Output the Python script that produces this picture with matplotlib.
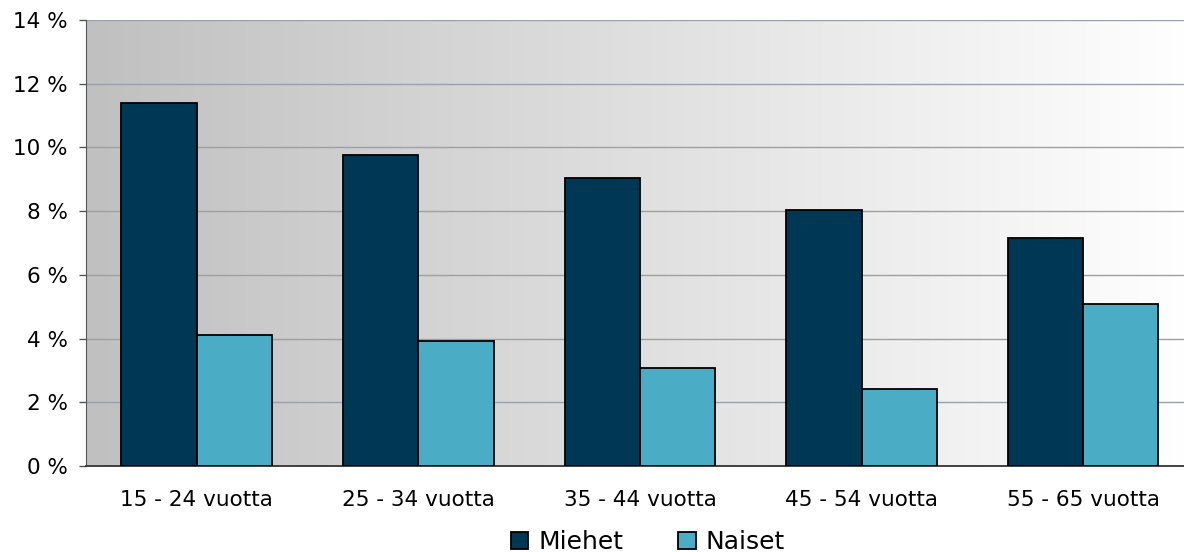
import matplotlib.pyplot as plt
import numpy as np
from matplotlib.colors import LinearSegmentedColormap

categories = ["15 - 24 vuotta", "25 - 34 vuotta", "35 - 44 vuotta", "45 - 54 vuotta", "55 - 65 vuotta"]
miehet = [11.4, 9.75, 9.05, 8.05, 7.15]
naiset = [4.12, 3.93, 3.08, 2.42, 5.08]
yticks = [0, 2, 4, 6, 8, 10, 12, 14]

dark = "#003755"
light = "#4bacc6"

fig = plt.figure(figsize=(11.84, 5.52), dpi=100)
# plot area runs slightly past the right edge, as in the original
ax = fig.add_axes([0.0726, 0.1558, 0.9358, 0.808])

# gradient background
cmap = LinearSegmentedColormap.from_list("bg", ["#c0c0c0", "#ffffff"])
grad = np.linspace(0, 1, 256).reshape(1, -1)
ax.imshow(grad, cmap=cmap, aspect="auto", extent=[-0.5, 4.5, 0, 14], zorder=0)

x = np.arange(len(categories))
w = 0.34
ax.bar(x - w / 2, miehet, w, color=dark, edgecolor="black", linewidth=1.3, zorder=3, label="Miehet")
ax.bar(x + w / 2, naiset, w, color=light, edgecolor="black", linewidth=1.3, zorder=3, label="Naiset")

ax.set_xlim(-0.5, 4.5)
ax.set_ylim(0, 14)
ax.set_yticks(yticks)
ax.set_yticklabels([f"{v} %" for v in yticks], fontsize=15.5)
ax.set_xticks(x)
ax.set_xticklabels(categories, fontsize=15.5)
ax.tick_params(axis="x", length=0, pad=17)
ax.tick_params(axis="y", length=5, width=1, color="#555555", pad=8)

for v in yticks[1:]:
    ax.axhline(v, color="#98a0aa", linewidth=1, zorder=1)

ax.spines["top"].set_visible(False)
ax.spines["right"].set_visible(False)
ax.spines["left"].set_color("#555555")
ax.spines["bottom"].set_color("#333333")
ax.spines["bottom"].set_linewidth(1.3)

ax.legend(loc="upper center", bbox_to_anchor=(0.507, -0.11), ncol=2, frameon=False,
          fontsize=18, handlelength=0.7, handleheight=0.7, columnspacing=2.2,
          handletextpad=0.4, borderpad=0.1)

fig.savefig("out.png", dpi=100)
